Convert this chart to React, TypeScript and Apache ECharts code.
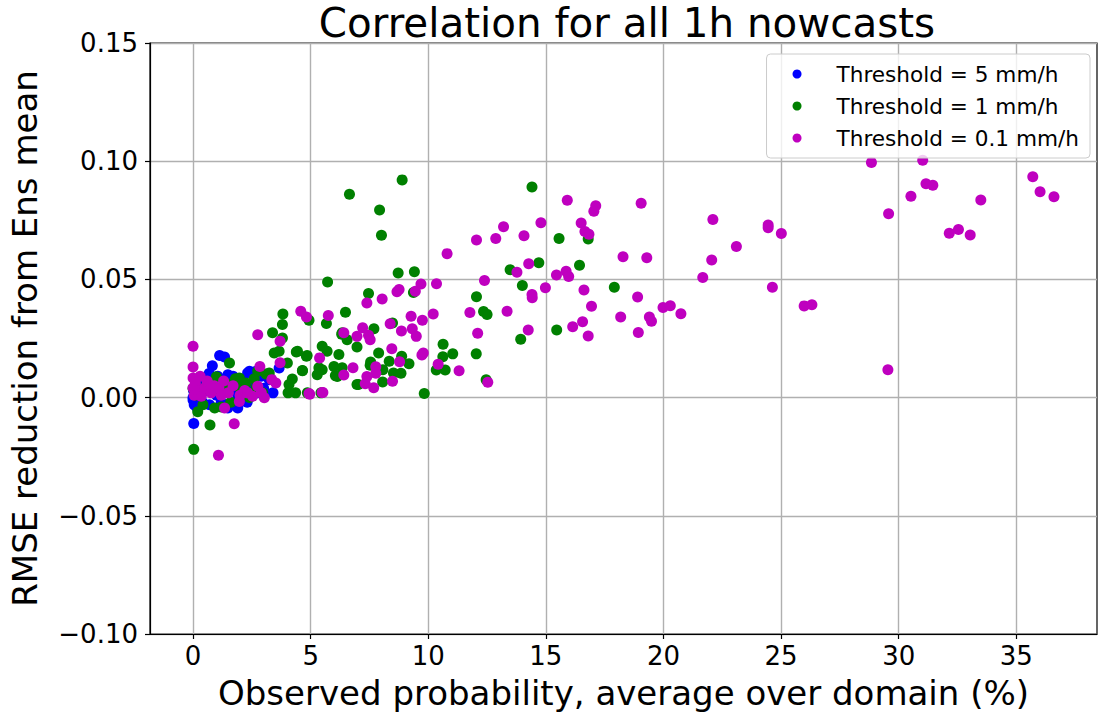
import React, { useEffect, useRef } from "react";
import * as echarts from "echarts";

const titleText = "Correlation for all 1h nowcasts";
const xAxisName = "Observed probability, average over domain (%)";
const yAxisName = "RMSE reduction from Ens mean";
const seriesNames = ["Threshold = 5 mm/h", "Threshold = 1 mm/h", "Threshold = 0.1 mm/h"];
const seriesColors = ["#0000ff", "#008000", "#bf00bf"];
const xTicks = [0, 5, 10, 15, 20, 25, 30, 35];

const blue5: number[][] = [
  [0, 0.0], [0.02, 0.003], [0.05, -0.003], [0.03, -0.011], [0.1, 0.005], [0.15, -0.004], [0.2, 0.007],
  [0.3, 0.001], [0.4, -0.002], [0.5, 0.008], [0.6, 0.003], [0.68, 0.0102], [0.7, -0.003], [0.82, 0.0135],
  [0.9, 0.005], [1.0, 0.001], [1.05, 0.009], [1.13, 0.0178], [1.2, -0.002], [1.34, 0.0172], [1.4, 0.004],
  [1.48, 0.0097], [1.48, -0.0044], [1.6, 0.004], [1.9, -0.0044], [1.9, 0.001], [2.0, 0.004], [2.1, 0.007],
  [2.32, 0.0104], [2.4, 0.0111], [2.5, 0.005], [2.68, 0.0111], [2.7, 0.002], [2.9, 0.009], [3.0, 0.004],
  [3.24, 0.0076], [3.3, 0.008], [3.4, 0.002], [3.66, 0.0125], [2.3, -0.002], [1.7, 0.009], [0.0, -0.001],
];

const green1: number[][] = [
  [0.03, -0.0219], [0.72, -0.0116], [0.42, -0.003], [0.92, -0.0044], [0.0, 0.004], [0.1, 0.001], [0.2, -0.006],
  [0.3, 0.002], [0.6, 0.006], [0.99, 0.0088], [1.1, 0.003], [1.2, -0.004], [1.4, 0.006], [1.55, 0.0146],
  [1.6, -0.002], [1.8, 0.008], [1.97, 0.0083], [2.0, 0.004], [2.25, 0.0062], [2.4, 0.0], [2.6, 0.008],
  [2.68, 0.0041], [2.75, 0.0111], [2.96, 0.002], [3.1, 0.01], [3.24, 0.0104], [3.38, 0.0274], [3.8, 0.0252],
  [3.82, 0.0354], [3.8, 0.0309], [3.45, 0.0189], [3.66, 0.0196], [4.39, 0.0193], [4.82, 0.0175], [4.01, 0.0146],
  [4.65, 0.0114], [4.22, 0.0079], [4.08, 0.0055], [4.04, 0.002], [4.86, 0.002], [4.36, 0.002], [4.44, 0.0196],
  [4.93, 0.0327], [5.67, 0.0313], [6.48, 0.0361], [5.49, 0.0217], [5.7, 0.0196], [6.2, 0.0182], [5.28, 0.0097],
  [5.49, 0.0118], [5.99, 0.0132], [6.05, 0.0093], [6.34, 0.0126], [6.97, 0.0055], [6.34, 0.0274], [6.55, 0.0245],
  [6.97, 0.0214], [7.46, 0.044], [5.72, 0.0489], [8.89, 0.0921], [6.65, 0.086], [7.93, 0.0794], [8.01, 0.0687],
  [14.41, 0.0891], [8.72, 0.0527], [9.41, 0.0532], [9.37, 0.0445], [13.48, 0.0541], [14.7, 0.057], [14.0, 0.0474],
  [12.05, 0.0427], [12.35, 0.0364], [12.5, 0.0352], [13.93, 0.0247], [12.04, 0.0185], [12.46, 0.0075],
  [10.63, 0.0226], [10.62, 0.0173], [11.04, 0.0185], [10.34, 0.0117], [10.72, 0.0117], [9.83, 0.0017],
  [8.48, 0.0316], [7.69, 0.0291], [7.89, 0.0189], [7.55, 0.0151], [7.53, 0.0137], [8.34, 0.0154], [8.87, 0.0175],
  [9.18, 0.0143], [8.07, 0.0118], [8.52, 0.0104], [8.84, 0.0103], [8.06, 0.0066], [7.03, 0.0055], [5.44, 0.002],
  [4.85, 0.0178], [5.35, 0.0126], [6.13, 0.0089], [15.56, 0.0673], [16.8, 0.0671], [16.43, 0.056],
  [17.91, 0.0467], [15.46, 0.0286], [6.32, 0.0268], [4.65, 0.0115],
];

const magenta01: number[][] = [
  [0, 0.0217], [0, 0.0129], [0, 0.0083], [0, 0.0041], [0.05, 0.001], [0.1, 0.006], [0.2, 0.003], [0.35, 0.0006],
  [0.49, 0.0041], [0.6, 0.007], [0.77, 0.002], [0.9, 0.005], [1.08, -0.0244], [1.75, -0.0111], [1.34, -0.0044],
  [1.97, -0.0016], [1.1, 0.004], [1.3, 0.007], [1.5, 0.002], [1.7, 0.005], [2.0, 0.001], [2.2, 0.003],
  [2.32, 0.002], [2.53, 0.0006], [2.75, 0.0048], [3.03, -0.0001], [3.35, 0.0076], [3.52, 0.0062],
  [2.84, 0.0132], [3.7, 0.0147], [3.7, 0.0238], [2.75, 0.0266], [2.9, 0.002], [1.2, 0.001], [0.3, 0.009],
  [4.58, 0.0365], [4.82, 0.0341], [5.75, 0.0347], [5.38, 0.0168], [6.8, 0.0126], [6.41, 0.0096], [4.93, 0.0017],
  [5.49, 0.0022], [6.41, 0.0274], [6.97, 0.0259], [7.21, 0.0295], [7.39, 0.04], [10.8, 0.0609], [12.05, 0.0667],
  [12.87, 0.0673], [13.2, 0.0723], [14.07, 0.0685], [14.79, 0.074], [14.27, 0.0566], [13.77, 0.053],
  [14.98, 0.0465], [14.41, 0.0436], [14.42, 0.0422], [12.39, 0.0495], [11.77, 0.036], [13.35, 0.0365],
  [12.1, 0.0272], [14.25, 0.0286], [12.53, 0.0065], [10.35, 0.0482], [10.21, 0.0354], [9.69, 0.0481],
  [9.45, 0.045], [8.76, 0.0457], [8.67, 0.0448], [8.04, 0.0417], [9.27, 0.0344], [9.75, 0.0327], [8.86, 0.0282],
  [9.32, 0.0291], [9.49, 0.0259], [8.38, 0.0312], [7.46, 0.0264], [7.53, 0.0245], [8.45, 0.0207], [8.78, 0.0152],
  [7.77, 0.013], [7.77, 0.0103], [7.39, 0.0089], [7.32, 0.0059], [7.68, 0.0042], [8.48, 0.0069], [9.79, 0.0189],
  [9.73, 0.018], [10.42, 0.0141], [11.31, 0.0114], [5.52, 0.0022], [4.96, 0.0014],
  [15.91, 0.0835], [17.12, 0.0812], [17.04, 0.0788], [16.5, 0.0739], [16.66, 0.0703], [16.83, 0.0691],
  [18.28, 0.0596], [19.29, 0.0592], [15.45, 0.0519], [15.86, 0.0534], [15.97, 0.0512], [16.62, 0.0455],
  [18.9, 0.0426], [16.94, 0.0386], [19.98, 0.0381], [20.29, 0.0389], [20.74, 0.0355], [18.18, 0.0341],
  [19.4, 0.0341], [19.49, 0.0323], [16.56, 0.0321], [16.14, 0.03], [16.8, 0.0261], [18.93, 0.0275],
  [19.05, 0.0822], [22.1, 0.0753], [23.1, 0.0639], [22.05, 0.0582], [21.67, 0.0508], [24.63, 0.0467],
  [24.45, 0.073], [24.45, 0.0719], [25.01, 0.0694], [28.84, 0.0995], [31.02, 0.1004], [31.16, 0.0905],
  [31.45, 0.0898], [30.52, 0.0852], [29.57, 0.0778], [33.49, 0.0836], [32.15, 0.0695], [32.54, 0.0711],
  [33.04, 0.0688], [35.7, 0.0934], [36.01, 0.0871], [36.6, 0.085], [25.98, 0.0388], [26.31, 0.0393],
  [29.54, 0.0118],
];

const seriesData = [blue5, green1, magenta01];
const FONT = "DejaVu Sans";

export default function App() {
  const ref = useRef<HTMLDivElement>(null);
  useEffect(() => {
    document.body.style.margin = "0";
    if (!ref.current) return;
    const chart = echarts.init(ref.current, undefined, { renderer: "svg" });
    const yFmt = (v: number) => {
      if (Math.abs(v) < 1e-9) return "0.00";
      return (v < 0 ? "\u2212" : "") + Math.abs(v).toFixed(2);
    };
    chart.setOption({
      animation: false,
      backgroundColor: "#ffffff",
      textStyle: { fontFamily: FONT },
      title: {
        text: titleText,
        left: 622,
        textAlign: "center",
        top: -2,
        textStyle: { fontFamily: FONT, fontSize: 40.4, fontWeight: "normal", color: "#000" },
      },
      legend: {
        orient: "vertical",
        right: 14,
        top: 54,
        itemWidth: 9,
        itemHeight: 9,
        itemGap: 10,
        icon: "circle",
        padding: [9, 11, 9, 26],
        backgroundColor: "rgba(255,255,255,0.8)",
        borderColor: "#cccccc",
        borderWidth: 1,
        borderRadius: 4,
        data: seriesNames,
        textStyle: { fontFamily: FONT, fontSize: 21.6, color: "#000", padding: [0, 0, 0, 30] },
      },
      grid: {
        left: 146,
        right: 7,
        top: 43,
        bottom: 84,
        show: true,
        borderColor: "#000",
        borderWidth: 1.2,
        backgroundColor: "transparent",
        containLabel: false,
      },
      xAxis: {
        type: "value",
        min: -1.83,
        max: 38.43,
        name: xAxisName,
        nameLocation: "middle",
        nameGap: 42,
        nameTextStyle: { fontFamily: FONT, fontSize: 34, color: "#000" },
        axisLine: { show: true, onZero: false, lineStyle: { color: "#000", width: 1.2 } },
        axisTick: { show: true, length: 5, customValues: xTicks, lineStyle: { color: "#000", width: 1.2 } },
        axisLabel: { customValues: xTicks, fontFamily: FONT, fontSize: 26, color: "#000", margin: 9 },
        splitLine: { show: true, lineStyle: { color: "#b0b0b0", width: 1.4 } },
      },
      yAxis: {
        type: "value",
        min: -0.1,
        max: 0.15,
        interval: 0.05,
        name: yAxisName,
        nameLocation: "middle",
        nameGap: 108,
        nameRotate: 90,
        nameTextStyle: { fontFamily: FONT, fontSize: 34, color: "#000" },
        axisLine: { show: true, onZero: false, lineStyle: { color: "#000", width: 1.2 } },
        axisTick: { show: true, length: 5, lineStyle: { color: "#000", width: 1.2 } },
        axisLabel: { formatter: yFmt, fontFamily: FONT, fontSize: 26, color: "#000", margin: 12 },
        splitLine: { show: true, lineStyle: { color: "#b0b0b0", width: 1.4 } },
      },
      series: seriesData.map((d, i) => ({
        name: seriesNames[i],
        type: "scatter",
        data: d,
        symbol: "circle",
        symbolSize: 11,
        itemStyle: { color: seriesColors[i], opacity: 1 },
        emphasis: { disabled: true },
      })),
    });
    return () => chart.dispose();
  }, []);
  return <div ref={ref} style={{ width: 1104, height: 718 }} />;
}
